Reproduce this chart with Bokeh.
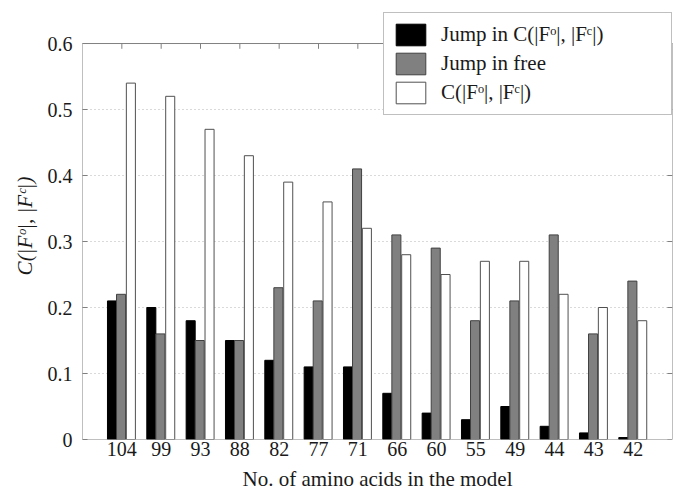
from bokeh.plotting import figure
from bokeh.models import FixedTicker, Range1d, Legend, LegendItem, ColumnDataSource
from bokeh.transform import dodge
from bokeh.embed import file_html
from bokeh.resources import INLINE

# ---- data ----
amino_acids = ["104", "99", "93", "88", "82", "77", "71", "66", "60", "55", "49", "44", "43", "42"]
jump_c = [0.21, 0.20, 0.18, 0.15, 0.12, 0.11, 0.11, 0.07, 0.04, 0.03, 0.05, 0.02, 0.01, 0.003]
jump_free = [0.22, 0.16, 0.15, 0.15, 0.23, 0.21, 0.41, 0.31, 0.29, 0.18, 0.21, 0.31, 0.16, 0.24]
c_values = [0.54, 0.52, 0.47, 0.43, 0.39, 0.36, 0.32, 0.28, 0.25, 0.27, 0.27, 0.22, 0.20, 0.18]
y_ticks = [0, 0.1, 0.2, 0.3, 0.4, 0.5, 0.6]

x_idx = list(range(1, len(amino_acids) + 1))
x_lo, x_hi = 0, len(amino_acids) + 1
y_lo, y_top = 0, y_ticks[-1]
src = ColumnDataSource(dict(x=x_idx, jc=jump_c, jf=jump_free, cv=c_values))

FONT = "Liberation Serif"
AX = "#808080"
TXT = "#1a1a1a"

# frame extends a bit above 0.6 so the legend can sit above the axes box
p = figure(width=676, height=493, output_backend="svg", toolbar_location=None,
           x_range=Range1d(x_lo, x_hi), y_range=Range1d(y_lo, 0.647),
           min_border_left=82, min_border_top=12, min_border_right=4, min_border_bottom=53)
p.background_fill_color = "white"
p.border_fill_color = "white"
p.outline_line_color = None

# grid
p.xgrid.grid_line_color = None
p.ygrid.ticker = FixedTicker(ticks=y_ticks)
p.ygrid.grid_line_color = "#b5b5b5"
p.ygrid.grid_line_dash = "1 3"
p.ygrid.grid_line_width = 1

w = 0.23
r1 = p.vbar(x=dodge("x", -0.25), top="jc", width=w, source=src,
            fill_color="black", line_color="black", line_width=1)
r2 = p.vbar(x=dodge("x", -0.02), top="jf", width=w, source=src,
            fill_color="#808080", line_color="#404040", line_width=1)
r3 = p.vbar(x=dodge("x", 0.23), top="cv", width=w, source=src,
            fill_color="white", line_color="#505050", line_width=1)

# axes box (0..0.6) with mirrored inward ticks on top and right
p.quad(left=[x_lo], right=[x_hi], bottom=[y_lo], top=[y_top],
       fill_color=None, line_color=AX, line_width=1)
p.segment(x0=x_idx, y0=[y_top] * len(x_idx), x1=x_idx, y1=[y_top - 0.008] * len(x_idx),
          line_color=AX, line_width=1)
p.segment(x0=[x_hi] * len(y_ticks), y0=y_ticks, x1=[x_hi - 0.13] * len(y_ticks), y1=y_ticks,
          line_color=AX, line_width=1)

# x axis
xa = p.xaxis[0]
xa.ticker = FixedTicker(ticks=x_idx)
xa.major_label_overrides = {i: lab for i, lab in zip(x_idx, amino_acids)}
xa.axis_label = "No. of amino acids in the model"
# y axis
ya = p.yaxis[0]
ya.ticker = FixedTicker(ticks=y_ticks)
ya.major_label_overrides = {0: "0"}
ya.axis_label = "C(|F\u1d52|, |F\u1d9c|)"
ya.axis_label_text_font_style = "italic"

for ax in (xa, ya):
    ax.axis_line_color = None
    ax.major_tick_line_color = AX
    ax.major_tick_in = 5
    ax.major_tick_out = 0
    ax.minor_tick_line_color = None
    ax.major_label_text_font = FONT
    ax.major_label_text_font_size = "20px"
    ax.major_label_text_color = TXT
    ax.axis_label_text_font = FONT
    ax.axis_label_text_color = TXT
    ax.axis_label_text_font_size = "21px"
xa.axis_label_text_font_style = "normal"
xa.major_label_standoff = 2
xa.axis_label_standoff = 8
ya.major_label_standoff = 10
ya.axis_label_standoff = 8

legend = Legend(items=[
    LegendItem(label="Jump in C(|F\u1d52|, |F\u1d9c|)", renderers=[r1]),
    LegendItem(label="Jump in free", renderers=[r2]),
    LegendItem(label="C(|F\u1d52|, |F\u1d9c|)", renderers=[r3]),
], location="top_right")
legend.label_text_font = FONT
legend.label_text_font_size = "21px"
legend.label_text_color = TXT
legend.glyph_width = 37
legend.glyph_height = 27
legend.label_height = 23
legend.label_width = 222
legend.label_standoff = 12
legend.spacing = 2
legend.padding = 8
legend.margin = 0
legend.border_line_color = AX
legend.border_line_width = 1
legend.background_fill_color = "white"
legend.background_fill_alpha = 1
p.add_layout(legend, "center")

open("out.html", "w").write(file_html(p, INLINE))
